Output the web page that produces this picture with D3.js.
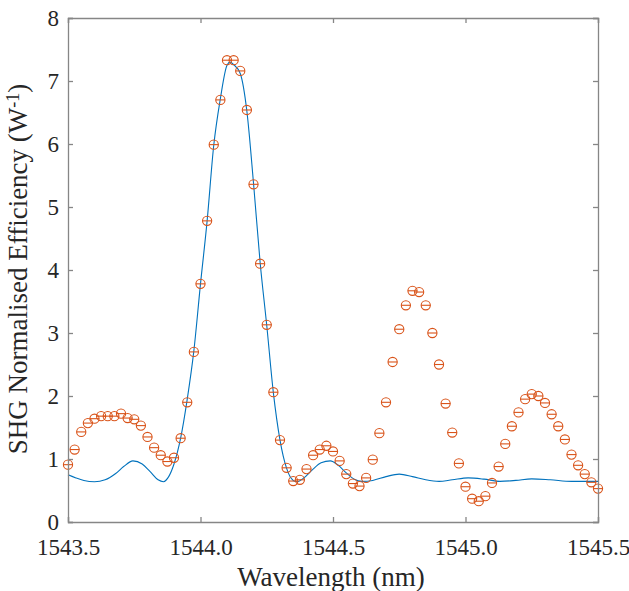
<!DOCTYPE html>
<html><head><meta charset="utf-8">
<script src="https://cdn.jsdelivr.net/npm/d3@7"></script>
</head><body style="margin:0">
<svg id="chart" width="629" height="591"></svg>
<script>
const measX = [1543.500,1543.525,1543.550,1543.575,1543.600,1543.625,1543.650,1543.675,1543.700,1543.725,
1543.750,1543.775,1543.800,1543.825,1543.850,1543.875,1543.900,1543.925,1543.950,1543.975,
1544.000,1544.025,1544.050,1544.075,1544.100,1544.125,1544.150,1544.175,1544.200,1544.225,
1544.250,1544.275,1544.300,1544.325,1544.350,1544.375,1544.400,1544.425,1544.450,1544.475,
1544.500,1544.525,1544.550,1544.575,1544.600,1544.625,1544.650,1544.675,1544.700,1544.725,
1544.750,1544.775,1544.800,1544.825,1544.850,1544.875,1544.900,1544.925,1544.950,1544.975,
1545.000,1545.025,1545.050,1545.075,1545.100,1545.125,1545.150,1545.175,1545.200,1545.225,
1545.250,1545.275,1545.300,1545.325,1545.350,1545.375,1545.400,1545.425,1545.450,1545.475,1545.500];
const measY = [0.91,1.15,1.43,1.57,1.64,1.68,1.68,1.68,1.72,1.65,
1.63,1.53,1.35,1.18,1.06,0.96,1.02,1.33,1.90,2.70,
3.78,4.78,5.99,6.70,7.33,7.33,7.16,6.54,5.36,4.10,
3.13,2.06,1.30,0.86,0.65,0.67,0.84,1.06,1.15,1.21,
1.12,0.97,0.76,0.61,0.57,0.70,0.99,1.41,1.90,2.54,
3.06,3.44,3.67,3.65,3.44,3.00,2.50,1.88,1.42,0.93,
0.56,0.37,0.33,0.41,0.62,0.88,1.24,1.52,1.74,1.95,
2.03,2.00,1.89,1.71,1.52,1.31,1.07,0.90,0.76,0.63,0.53];
const theoryX = [1543.500,1543.530,1543.560,1543.600,1543.640,1543.680,1543.710,1543.745,1543.780,1543.810,
1543.840,1543.860,1543.880,1543.900,1543.925,1543.950,1543.975,1544.000,1544.025,1544.050,
1544.075,1544.100,1544.112,1544.125,1544.150,1544.175,1544.200,1544.225,1544.250,1544.275,
1544.300,1544.325,1544.350,1544.365,1544.390,1544.420,1544.455,1544.490,1544.520,1544.550,
1544.580,1544.610,1544.650,1544.700,1544.750,1544.800,1544.850,1544.900,1544.950,1545.010,
1545.070,1545.130,1545.190,1545.250,1545.320,1545.400,1545.450,1545.500];
const theoryY = [0.75,0.70,0.66,0.64,0.67,0.77,0.88,0.97,0.92,0.80,
0.67,0.64,0.72,0.92,1.33,1.95,2.72,3.78,4.78,5.98,
6.72,7.25,7.30,7.26,7.12,6.52,5.38,4.12,3.12,2.05,
1.30,0.85,0.66,0.64,0.70,0.82,0.94,0.97,0.90,0.78,
0.68,0.645,0.66,0.72,0.76,0.72,0.67,0.645,0.67,0.70,
0.68,0.645,0.66,0.685,0.67,0.645,0.645,0.645];
const xTicks = [1543.5,1544.0,1544.5,1545.0,1545.5];
const yTicks = [0,1,2,3,4,5,6,7,8];

const svg = d3.select('#chart');
const L=68, R=598, T=18, B=522;
const x = d3.scaleLinear().domain([1543.5,1545.5]).range([L,R]);
const y = d3.scaleLinear().domain([0,8]).range([B,T]);
const axisCol = '#868686', textCol = '#262626';
const FF = "Liberation Serif";

const line = d3.line().x((d,i)=>x(theoryX[i])).y((d,i)=>y(theoryY[i])).curve(d3.curveMonotoneX);
svg.append('path').datum(theoryY).attr('d',line).attr('fill','none').attr('stroke','#0072BD').attr('stroke-width',1.1);

const g = svg.append('g');
measY.forEach((v,i)=>{
  const cx=x(measX[i]), cy=y(v), r=4.6;
  g.append('circle').attr('cx',cx).attr('cy',cy).attr('r',r).attr('fill','none').attr('stroke','#D95319').attr('stroke-width',1.1);
  g.append('line').attr('x1',cx-r).attr('x2',cx+r).attr('y1',cy).attr('y2',cy).attr('stroke','#D95319').attr('stroke-width',1.1);
});

const tl=5;
const axB = d3.axisBottom(x).tickValues(xTicks).tickSize(-tl).tickFormat(d3.format('.1f'));
const axT = d3.axisTop(x).tickValues(xTicks).tickSize(-tl).tickFormat('');
const axL = d3.axisLeft(y).tickValues(yTicks).tickSize(-tl).tickFormat(d3.format('d'));
const axR = d3.axisRight(y).tickValues(yTicks).tickSize(-tl).tickFormat('');
function style(s){
  s.attr('font-family', FF).attr('font-size', 23);
  s.selectAll('path,line').attr('stroke',axisCol).attr('stroke-width',1.3);
  s.selectAll('text').attr('fill',textCol).style('font-family',`"${FF}"`).style('font-size','23px');}
svg.append('g').attr('transform',`translate(0,${B})`).call(axB).call(style).selectAll('text').attr('dy',null).attr('y',33);
svg.append('g').attr('transform',`translate(0,${T})`).call(axT).call(style);
svg.append('g').attr('transform',`translate(${L},0)`).call(axL).call(style).selectAll('text').attr('x',-9).attr('dy','0.34em');
svg.append('g').attr('transform',`translate(${R},0)`).call(axR).call(style);

svg.append('text').attr('x',331).attr('y',586).attr('text-anchor','middle')
  .attr('fill',textCol).style('font-family',`"${FF}"`).style('font-size','27px').text('Wavelength (nm)');
const yl = svg.append('text').attr('transform',`translate(27,269) rotate(-90)`).attr('text-anchor','middle')
  .attr('fill',textCol).style('font-family',`"${FF}"`).style('font-size','27px');
yl.append('tspan').text('SHG Normalised Efficiency (W');
yl.append('tspan').text('-1').attr('dy','-0.45em').style('font-size','18px');
yl.append('tspan').text(')').attr('dy','0.3em');
</script>
</body></html>
